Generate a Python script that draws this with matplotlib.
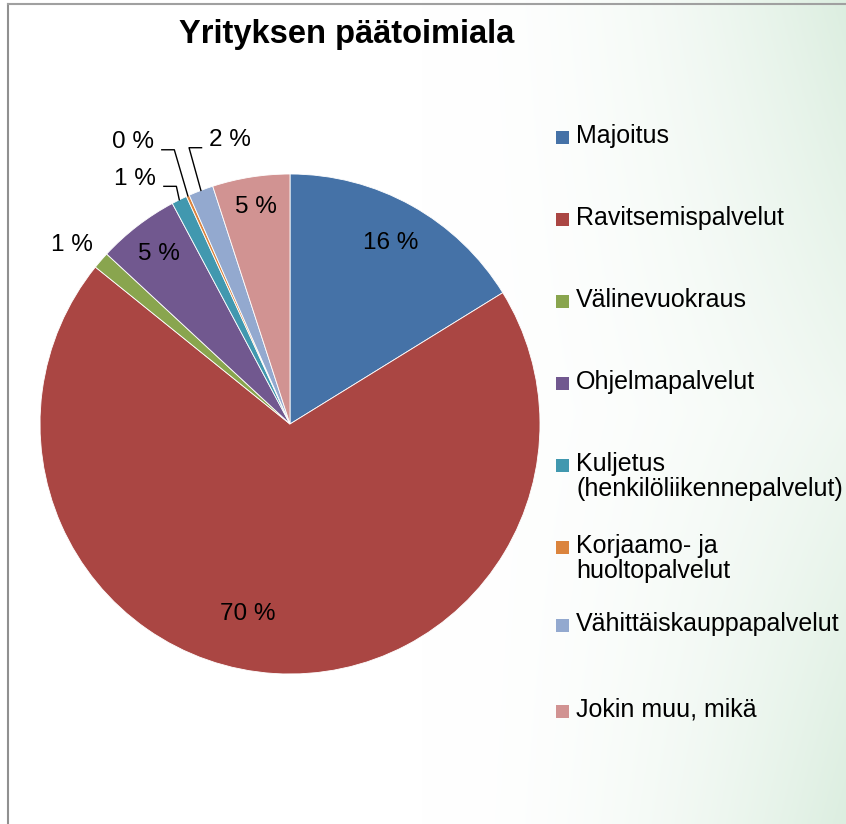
import numpy as np
import matplotlib
matplotlib.use("Agg")
import matplotlib.pyplot as plt
from matplotlib.patches import Rectangle
from matplotlib.lines import Line2D

plt.rcParams['font.family'] = ['Liberation Sans', 'DejaVu Sans']

# data (percent)
categories = ["Majoitus", "Ravitsemispalvelut", "Välinevuokraus", "Ohjelmapalvelut",
              "Kuljetus\n(henkilöliikennepalvelut)", "Korjaamo- ja\nhuoltopalvelut",
              "Vähittäiskauppapalvelut", "Jokin muu, mikä"]
values = [16.2, 69.6, 1.1, 5.3, 1.0, 0.2, 1.6, 5.0]
colors = ["#4572A7", "#AA4643", "#89A54E", "#71588F",
          "#4198AF", "#DB843D", "#93A9CF", "#D19392"]

# label placement: radius factor, angle shift (deg), leader line?
label_r = [0.83, 0.78, 1.13, 0.86, 1.16, 1.29, 1.16, 0.88]
label_shift = [0, 9, -1.5, 0, -6, -5, 9, 0]
leader = [False, False, False, False, True, True, True, False]

W, H = 846, 824
fig = plt.figure(figsize=(W / 100, H / 100), dpi=100)

# background: white with a faint green wash on the right
bg = fig.add_axes([0, 0, 1, 1], zorder=-10)
xx, yy = np.meshgrid(np.linspace(0, 1, 300), np.linspace(0, 1, 300))
wash = np.clip((xx - 0.5) / 0.5, 0, 1) ** 2 * (0.45 + 0.55 * np.abs(yy - 0.5) * 2)
img = np.ones((300, 300, 3))
green = np.array([220, 238, 224]) / 255.0
for c in range(3):
    img[:, :, c] = 1 - wash * (1 - green[c])
bg.imshow(img, extent=[0, 1, 0, 1], aspect='auto', origin='lower')
bg.axis('off')

# frame lines (left and top)
fig.add_artist(Line2D([8 / W, 8 / W], [0, 1 - 4 / H], color='#909090', lw=1.5))
fig.add_artist(Line2D([8 / W, 1], [1 - 4 / H, 1 - 4 / H], color='#a0a0a0', lw=1.5))

cx, cy, R = 290, 424, 250
ax = fig.add_axes([(cx - R) / W, (H - cy - R) / H, 2 * R / W, 2 * R / H])
wedges, _ = ax.pie(values, colors=colors, startangle=90, counterclock=False,
                   radius=1, wedgeprops=dict(edgecolor='white', linewidth=0.6))
ax.set_xlim(-1, 1)
ax.set_ylim(-1, 1)
ax.set_aspect('equal')
ax.axis('off')

for i, w in enumerate(wedges):
    mid = np.deg2rad((w.theta1 + w.theta2) / 2)
    txt = "%.0f %%" % values[i]
    ang = mid - np.deg2rad(label_shift[i])
    tx, ty = label_r[i] * np.cos(ang), label_r[i] * np.sin(ang)
    ax.text(tx, ty, txt, ha='center', va='center', fontsize=17.5, clip_on=False)
    if leader[i]:
        px, py = np.cos(mid), np.sin(mid)
        side = 1 if tx < px else -1
        x0 = tx + side * 0.115
        x1 = x0 + side * 0.05
        ax.plot([x0, x1, px], [ty - 0.03, ty - 0.03, py], color='black', lw=1.0,
                clip_on=False)

fig.text(347 / W, 1 - 43 / H, "Yrityksen päätoimiala", ha='center', va='baseline',
         fontsize=23.5, fontweight='bold')

# legend, drawn as squares and texts
leg_y0 = 137
leg_step = 82
for i, name in enumerate(categories):
    y = leg_y0 + i * leg_step
    if i == 6:
        y -= 4
    fig.add_artist(Rectangle((556 / W, 1 - (y + 7) / H), 13 / W, 13 / H,
                             facecolor=colors[i], edgecolor='none'))
    fig.text(576 / W, 1 - (y - 13) / H, name, ha='left', va='top', fontsize=18,
             linespacing=1.05)

fig.savefig("out.png", dpi=100)
